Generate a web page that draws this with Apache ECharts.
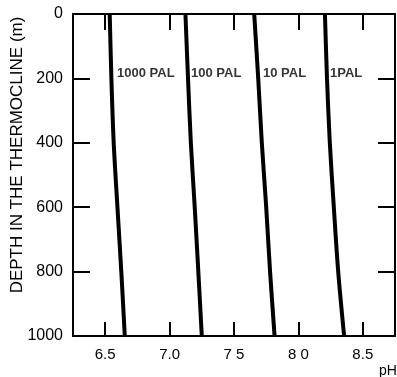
<!DOCTYPE html>
<html>
<head>
<meta charset="utf-8">
<script src="https://cdn.jsdelivr.net/npm/echarts@6/dist/echarts.min.js"></script>
<style>
html,body{margin:0;padding:0;background:#fff;}
#chart{width:397px;height:377px;}
</style>
</head>
<body>
<div id="chart"></div>
<script>
// Data
var depths = [0, 200, 400, 600, 800, 1000];
var ph1000PAL = [6.535, 6.548, 6.566, 6.595, 6.625, 6.652];
var ph100PAL  = [7.123, 7.143, 7.165, 7.195, 7.223, 7.250];
var ph10PAL   = [7.657, 7.688, 7.716, 7.750, 7.780, 7.815];
var ph1PAL    = [8.206, 8.222, 8.244, 8.275, 8.309, 8.355];
var curveNames = ['1000 PAL', '100 PAL', '10 PAL', '1PAL'];
var labelPH = [6.592, 7.166, 7.725, 8.245];
var labelDepth = 183;
var xTickValues = [6.5, 7.0, 7.5, 8.0, 8.5];
var xTickLabels = ['6.5', '7.0', '7 5', '8 0', '8.5'];

function pairs(xs) { return xs.map(function (v, i) { return [v, depths[i]]; }); }

var chart = echarts.init(document.getElementById('chart'));
var font = 'Liberation Sans, Arial, sans-serif';
var lineStyle = { color: '#000', width: 2 };

var curves = [ph1000PAL, ph100PAL, ph10PAL, ph1PAL];
var series = curves.map(function (c, i) {
  return {
    type: 'line', name: curveNames[i], data: pairs(c),
    symbol: 'none', smooth: 0.3,
    lineStyle: { color: '#000', width: 4 }, z: 3
  };
});
series.push({
  type: 'scatter', symbolSize: 0,
  data: curveNames.map(function (n, i) { return { name: n, value: [labelPH[i], labelDepth] }; }),
  label: {
    show: true, position: 'right', distance: 0,
    formatter: function (p) { return p.name; },
    color: '#000', fontFamily: font, fontWeight: 'bold', fontSize: 13
  },
  silent: true
});

var xBase = {
  type: 'value', min: 6.25, max: 8.75,
  splitLine: { show: false },
  axisLine: { show: true, onZero: false, lineStyle: lineStyle }
};

chart.setOption({
  animation: false,
  backgroundColor: '#fff',
  grid: { left: 73, right: 2, top: 14, bottom: 41 },
  xAxis: [
    Object.assign({}, xBase, {
      position: 'bottom',
      axisTick: { show: true, inside: true, length: 14, lineStyle: lineStyle, customValues: xTickValues },
      axisLabel: {
        show: true, margin: 11, color: '#000', fontFamily: font, fontSize: 15,
        customValues: xTickValues,
        formatter: function (v) {
          for (var i = 0; i < xTickValues.length; i++) if (Math.abs(xTickValues[i] - v) < 1e-6) return xTickLabels[i];
          return '';
        }
      }
    }),
    Object.assign({}, xBase, {
      position: 'top',
      axisTick: { show: true, inside: true, length: 16, lineStyle: lineStyle, customValues: xTickValues },
      axisLabel: { show: false }
    })
  ],
  yAxis: [
    {
      type: 'value', min: 0, max: 1000, interval: 200, inverse: true, position: 'left',
      splitLine: { show: false },
      axisLine: { show: true, onZero: false, lineStyle: lineStyle },
      axisTick: { show: true, inside: true, length: 17, lineStyle: lineStyle },
      axisLabel: { show: true, margin: 10, color: '#000', fontFamily: font, fontSize: 16,
        formatter: function (v) { return String(v); } }
    },
    {
      type: 'value', min: 0, max: 1000, interval: 200, inverse: true, position: 'right',
      splitLine: { show: false },
      axisLine: { show: true, onZero: false, lineStyle: lineStyle },
      axisTick: { show: true, inside: true, length: 17, lineStyle: lineStyle },
      axisLabel: { show: false }
    }
  ],
  series: series,
  graphic: [
    {
      type: 'text', x: 17, y: 155, rotation: Math.PI / 2,
      style: {
        text: 'DEPTH IN THE THERMOCLINE (m)', x: 0, y: 0,
        textAlign: 'center', textVerticalAlign: 'middle',
        fill: '#000', font: '17px ' + font
      }
    },
    {
      type: 'text', x: 379, y: 371,
      style: {
        text: 'pH', x: 0, y: 0, textAlign: 'left', textVerticalAlign: 'middle',
        fill: '#000', font: '14px ' + font
      }
    }
  ]
});
</script>
</body>
</html>
